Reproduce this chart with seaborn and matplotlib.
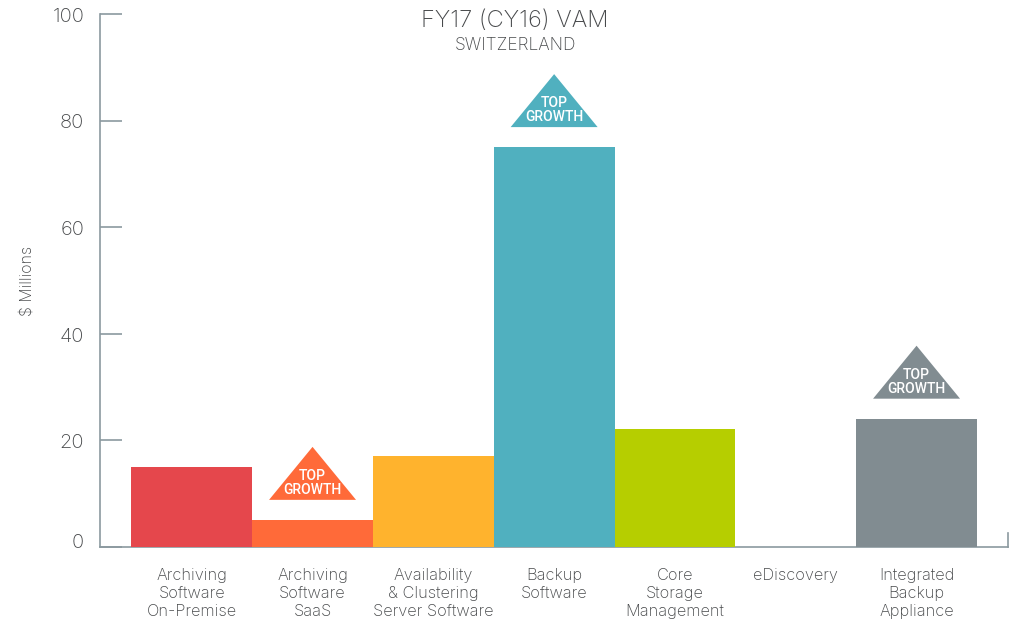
import matplotlib
matplotlib.use("Agg")
import matplotlib.pyplot as plt
from matplotlib.transforms import ScaledTranslation
import pandas as pd
import seaborn as sns

#chart values
categories=["Archiving\nSoftware\nOn-Premise",
        "Archiving\nSoftware\nSaaS",
        "Availability\n& Clustering\nServer Software",
        "Backup\nSoftware",
        "Core\nStorage\nManagement",
        "eDiscovery",
        "Integrated\nBackup\nAppliance"]
values=[15,5,17,75,22,0,24]
top_growth=[False,True,False,True,False,False,True]
bar_colors=["#E5474C","#FF6A39","#FFB32D","#50B0BF","#B6CE00","#C9D0D3","#818C91"]
y_ticks=[0,20,40,60,80,100]

TEXT_COLOR="#47494B"
AXIS_COLOR="#8B999F"

def make_chart():
    sns.set_theme(style="white")
    plt.rcParams["font.family"]=["Inter","DejaVu Sans"]
    plt.rcParams["font.weight"]="light"

    fig=plt.figure(figsize=(10.15,6.22),dpi=100)
    ax=fig.add_axes([99.5/1015,75.5/622,908.5/1015,532.5/622])

    dataset=pd.DataFrame({"category":categories,"value":values})
    sns.barplot(data=dataset,x="category",y="value",hue="category",palette=bar_colors,
            width=1.0,saturation=1,legend=False,ax=ax,zorder=3,linewidth=0)

    ax.set_xlim(-0.7635,6.757)
    ax.set_ylim(0,100)
    ax.set_xlabel("")
    ax.set_ylabel("")

    #axis lines, the right one is only a short stub
    sns.despine(ax=ax,top=True,right=False)
    for side in ["left","bottom","right"]:
        ax.spines[side].set_color(AXIS_COLOR)
        ax.spines[side].set_linewidth(1.2)
    ax.spines["right"].set_bounds(0,2.5)

    ax.set_yticks(y_ticks)
    ax.tick_params(axis="y",direction="in",length=16,width=1.2,color=AXIS_COLOR,pad=11,
            labelsize=14.5,labelcolor=TEXT_COLOR,left=True)
    ax.tick_params(axis="x",length=0,pad=15.5,labelsize=11.8,labelcolor=TEXT_COLOR)
    for label in ax.get_xticklabels():
        label.set_linespacing(1.25)
        label.set_verticalalignment("top")

    #y labels sit slightly low, the zero label sits above its tick
    fig.canvas.draw()
    for label in ax.get_yticklabels():
        label.set_transform(label.get_transform()+ScaledTranslation(0,-1/100,fig.dpi_scale_trans))
    zero=ax.get_yticklabels()[0]
    zero.set_verticalalignment("bottom")
    zero.set_transform(zero.get_transform()+ScaledTranslation(0,-5/100,fig.dpi_scale_trans))

    #top growth triangles above the flagged bars
    for i,flag in enumerate(top_growth):
        if not flag:
            continue
        base=values[i]+3.76
        apex=base+9.95
        ax.fill([i-0.36,i+0.36,i],[base,base,apex],color=bar_colors[i],linewidth=0,zorder=3)
        ax.text(i,base+0.55,"TOP\nGROWTH",ha="center",va="bottom",color="white",fontsize=10,
                family="Roboto",fontweight="medium",linespacing=1.02,zorder=4)

    fig.text(515/1015,1-21/622,"FY17 (CY16) VAM",ha="center",va="center",fontsize=17,color=TEXT_COLOR)
    fig.text(515/1015,1-46/622,"SWITZERLAND",ha="center",va="center",fontsize=12.5,color=TEXT_COLOR)
    fig.text(28/1015,1-281/622,"$ Millions",rotation=90,ha="center",va="center",fontsize=11.5,color=TEXT_COLOR)
    return fig

def run():
    fig=make_chart()
    fig.savefig("out.png",dpi=100)

if __name__ == "__main__":
    run()
